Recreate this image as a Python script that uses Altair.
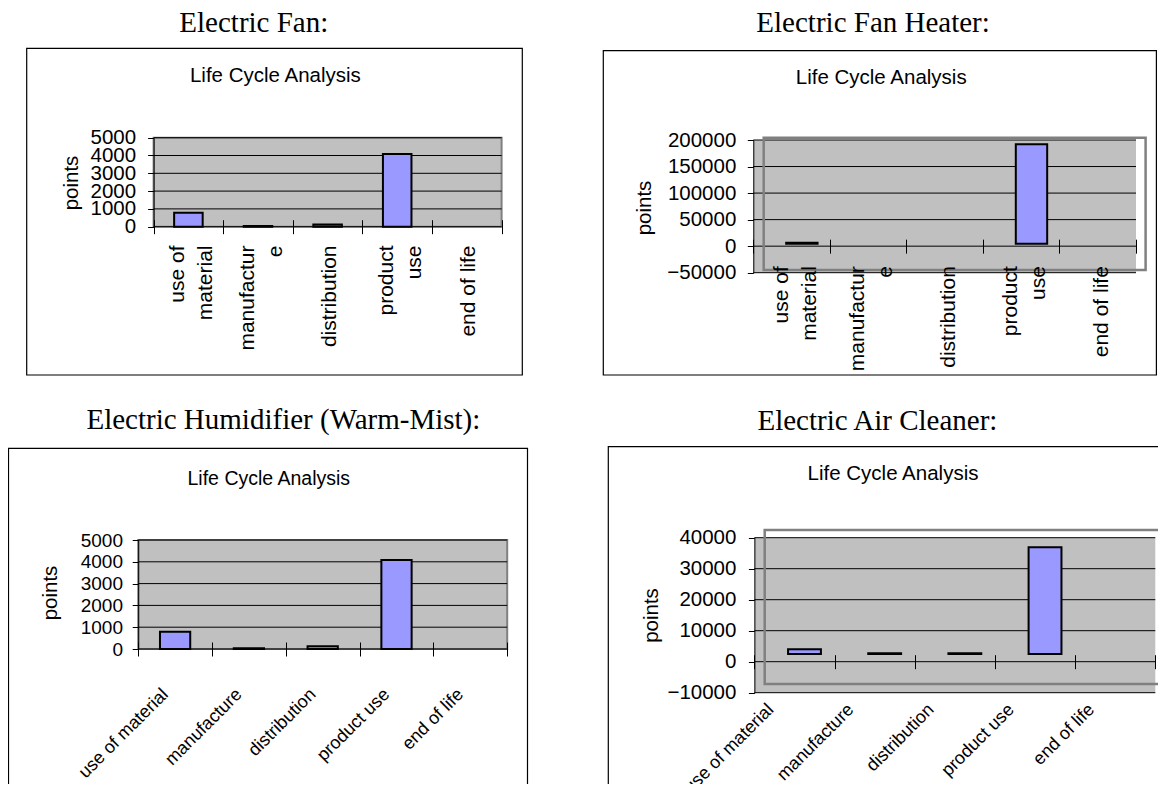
import altair as alt
import pandas as pd

# ---------------- data ----------------
STAGES = ["use of material", "manufacture", "distribution", "product use", "end of life"]

FAN_POINTS = [790, 40, 130, 4080, 0]
FAN_HEATER_POINTS = [1500, 0, 0, 187300, 0]
HUMIDIFIER_POINTS = [790, 40, 130, 4080, 0]
AIR_CLEANER_POINTS = [1500, 250, 250, 34400, 0]

FAN_TICKS = [0, 1000, 2000, 3000, 4000, 5000]
HEATER_TICKS = [-50000, 0, 50000, 100000, 150000, 200000]
HUMIDIFIER_TICKS = [0, 1000, 2000, 3000, 4000, 5000]
CLEANER_TICKS = [-10000, 0, 10000, 20000, 30000, 40000]

HEADINGS = ["Electric Fan:", "Electric Fan Heater:",
            "Electric Humidifier (Warm-Mist):", "Electric Air Cleaner:"]
CHART_TITLE = "Life Cycle Analysis"
Y_TITLE = "points"
NB = "\u00a0"
# wrapped two-line labels (second element of each pair padded so the short line is centred)
WRAPPED_LABELS = {"use of material": ["use of" + NB, "material"],
                  "manufacture": ["manufactur", "e" + NB * 8],
                  "product use": ["product", "use" + NB * 3]}

# ---------------- styling / layout ----------------
W, H = 1150, 776
SANS = "Liberation Sans"
SERIF = "Liberation Serif"
BAR_FILL = "#9999FF"
PLOT_FILL = "#C0C0C0"
PLOT_EDGE = "#808080"
ONE = alt.Data(values=[{"k": 0}])


def wrap_expr():
    expr = "datum.value"
    for k, v in reversed(list(WRAPPED_LABELS.items())):
        arr = "[" + ",".join("'" + s + "'" for s in v) + "]"
        expr = "datum.value == '" + k + "' ? " + arr + " : (" + expr + ")"
    return expr


def wrapped_test():
    return "indexof([" + ",".join("'" + k + "'" for k in WRAPPED_LABELS) + "], datum.value) >= 0"


def text_layer(txt, x, y, font, size):
    return alt.Chart(ONE).mark_text(
        text=txt, font=font, fontSize=size, align="center",
        baseline="alphabetic", color="black"
    ).encode(x=alt.value(x), y=alt.value(y))


def box_layer(x0, x1, y0, y1, stroke, sw, fill=None):
    kw = dict(stroke=stroke, strokeWidth=sw)
    if fill is None:
        kw["fillOpacity"] = 0
        kw["fill"] = "white"
    else:
        kw["fill"] = fill
    return alt.Chart(ONE).mark_rect(**kw).encode(
        x=alt.value(x0), x2=alt.value(x1), y=alt.value(y0), y2=alt.value(y1))


def panel(values, ticks, heading, p):
    x0, x1, y0, y1 = p["plot"]
    dx, dy = p["shift"]
    lo, hi = ticks[0], ticks[-1]
    zero_y = y1 - (0 - lo) / (hi - lo) * (y1 - y0)
    df = pd.DataFrame({"stage": STAGES, "points": values})

    xs = alt.Scale(domain=STAGES, range=[x0, x1], paddingInner=0, paddingOuter=0)
    ys = alt.Scale(domain=[lo, hi], range=[y1, y0], nice=False)
    xs_bar = alt.Scale(domain=STAGES, range=[x0 + dx, x1 + dx], paddingInner=0, paddingOuter=0)
    ys_bar = alt.Scale(domain=[lo, hi], range=[y1 + dy, y0 + dy], nice=False)

    xaxis_kw = dict(
        orient="bottom", offset=(zero_y - 7) - H, title=None, domain=False,
        ticks=True, tickSize=14, tickColor="black", tickWidth=1, tickBand="extent",
        grid=False, labelFont=SANS, labelFontSize=p["xfont"], labelColor="black",
        labelAngle=p["xangle"], labelAlign="right", labelBaseline="middle",
        labelPadding=p["xpad"], labelOverlap=False, labelLimit=400, zindex=1)
    if p["wrap"]:
        xaxis_kw["labelExpr"] = wrap_expr()
        xaxis_kw["labelLineHeight"] = 28
        xaxis_kw["labelOffset"] = {"condition": {"test": wrapped_test(), "value": p["xoff2"]},
                                   "value": p["xoff"]}
    else:
        xaxis_kw["labelOffset"] = p["xoff"]
    xaxis = alt.Axis(**xaxis_kw)

    yaxis = alt.Axis(
        orient="left", offset=-x0, values=ticks, format="d", grid=False,
        domain=True, domainColor="black", domainWidth=1,
        ticks=True, tickSize=6, tickColor="black", tickWidth=1,
        labelFont=SANS, labelFontSize=p["yfont"], labelColor="black",
        labelPadding=p["ypad"], labelOverlap=False,
        title=Y_TITLE, titleFont=SANS, titleFontSize=20.5, titleFontWeight="normal",
        titleColor="black", titleX=p["ytitle"][0], titleY=p["ytitle"][1],
        titleAngle=270, titleAlign="center", titleBaseline="middle", zindex=1)

    layers = []
    fx0, fx1, fy0, fy1 = p["frame"]
    layers.append(box_layer(fx0, fx1, fy0, fy1, "black", 1.2))
    if p["edge"]:
        layers.append(box_layer(x0, x1, y0, y1, PLOT_EDGE, 2, PLOT_FILL))
    else:
        layers.append(box_layer(x0, x1, y0, y1, PLOT_FILL, 0.01, PLOT_FILL))
    layers.append(
        alt.Chart(pd.DataFrame({"tick": ticks})).mark_rule(color="black", strokeWidth=1)
        .encode(y=alt.Y("tick:Q", scale=ys, axis=None), x=alt.value(x0), x2=alt.value(x1)))
    layers.append(
        alt.Chart(df).mark_bar(opacity=0)
        .encode(x=alt.X("stage:N", scale=xs, axis=xaxis),
                y=alt.Y("points:Q", scale=ys, axis=yaxis)))
    layers.append(
        alt.Chart(df).transform_filter("datum.points != 0")
        .mark_bar(fill=BAR_FILL, stroke="black", strokeWidth=2,
                  width=alt.RelativeBandSize(0.41))
        .encode(x=alt.X("stage:N", scale=xs_bar, axis=None),
                y=alt.Y("points:Q", scale=ys_bar, axis=None),
                y2=alt.datum(0)))
    if p.get("oframe"):
        ox0, ox1, oy0, oy1 = p["oframe"]
        layers.append(box_layer(ox0, ox1, oy0, oy1, PLOT_EDGE, 2.5))
    tx, ty, ts = p["title"]
    layers.append(text_layer(CHART_TITLE, tx, ty, SANS, ts))
    hx, hy = p["heading"]
    layers.append(text_layer(heading, hx, hy, SERIF, 29))
    return layers


PANELS = [
    dict(plot=(145.6, 493.6, 129.7, 218.7), shift=(0, 0), frame=(18.7, 514.3, 40.3, 367),
         edge=True, title=(267.4, 73.8, 20.5), heading=(245.8, 23.7),
         yfont=20.5, ypad=12, ytitle=(-81.9, 174.5),
         xfont=21, xangle=270, xpad=11.3, xoff=1.5, xoff2=-11, wrap=True),
    dict(plot=(745.3, 1128.0, 132.0, 264.7), shift=(10.3, -2.5), frame=(595.3, 1148.4, 42.7, 367),
         edge=False, oframe=(755.7, 1137.6, 129.7, 262.0),
         title=(873.2, 75.5, 20.5), heading=(865.1, 23.7),
         yfont=20.5, ypad=11.5, ytitle=(-109, 199.5),
         xfont=21, xangle=270, xpad=12.5, xoff=3.5, xoff2=-10.5, wrap=True),
    dict(plot=(130.2, 499.2, 532.0, 641.0), shift=(0, 0), frame=(0.5, 519.5, 440.3, 900),
         edge=True, title=(260.8, 477.2, 19.5), heading=(275.4, 421.3),
         yfont=19, ypad=9.7, ytitle=(-88.2, 584.5),
         xfont=18, xangle=315, xpad=35.5, xoff=-10, wrap=False),
    dict(plot=(746.4, 1147.3, 529.7, 684.7), shift=(10, -7.7), frame=(600.3, 1300, 438.7, 900),
         edge=False, oframe=(756.7, 1157.0, 522.0, 676.0),
         title=(885.0, 472.2, 20.5), heading=(869.4, 422.0),
         yfont=20.5, ypad=12.5, ytitle=(-102.7, 607),
         xfont=18, xangle=315, xpad=38, xoff=-24, wrap=False),
]

VALUES = [FAN_POINTS, FAN_HEATER_POINTS, HUMIDIFIER_POINTS, AIR_CLEANER_POINTS]
TICKS = [FAN_TICKS, HEATER_TICKS, HUMIDIFIER_TICKS, CLEANER_TICKS]

all_layers = []
for vals, tks, head, p in zip(VALUES, TICKS, HEADINGS, PANELS):
    all_layers.extend(panel(vals, tks, head, p))

chart = alt.layer(*all_layers).resolve_scale(
    x="independent", y="independent"
).properties(
    width=W, height=H, padding=0,
    autosize=alt.AutoSizeParams(type="none"),
    background="white",
).configure_view(strokeOpacity=0, fill="white")

chart.save("out.html", embed_options={"renderer": "svg", "actions": False})
